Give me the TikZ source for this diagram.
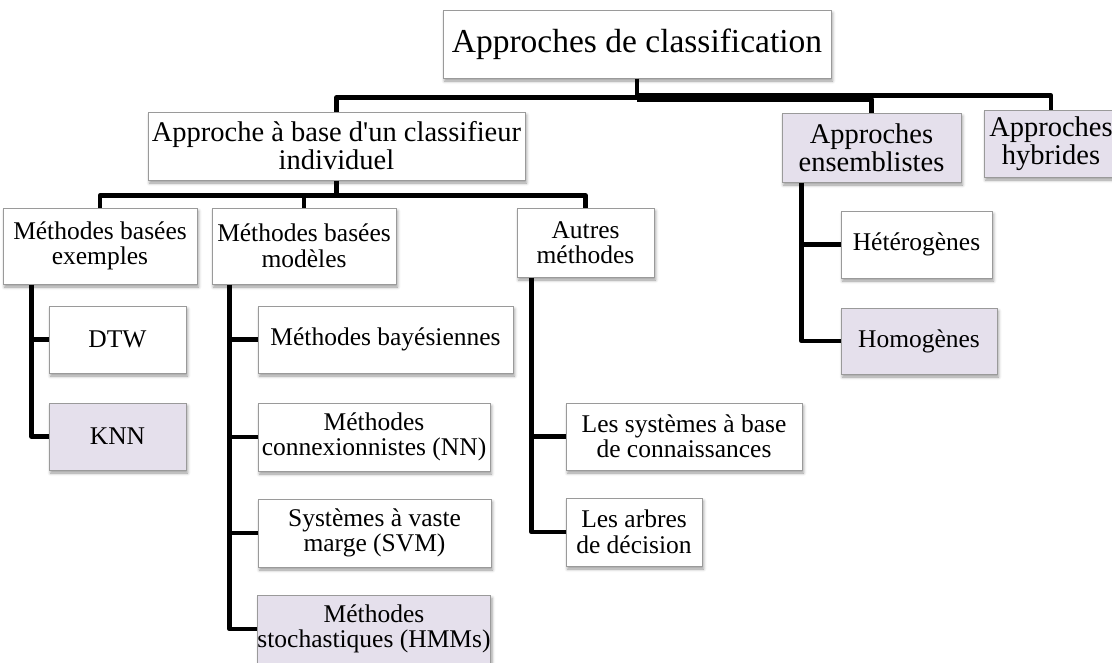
\documentclass[tikz,border=0pt]{standalone}
\usepackage{fontspec}
\setmainfont{Liberation Serif}
\usetikzlibrary{shadows.blur}
\definecolor{lav}{HTML}{E5E0EC}
\definecolor{boxline}{HTML}{9A9A9A}
\begin{document}
\begin{tikzpicture}[x=1pt,y=-1pt,
  box/.style={draw=boxline,line width=1pt,fill=white,inner sep=0pt,align=center,
    blur shadow={shadow xshift=1.5pt,shadow yshift=-3pt,shadow blur radius=3pt,shadow opacity=40}},
  hl/.style={fill=lav},
  rootfont/.style={font=\fontsize{33.5}{34}\selectfont},
  topfont/.style={font=\fontsize{28.5}{28}\selectfont},
  leaffont/.style={font=\fontsize{25.5}{25.5}\selectfont},
  link/.style={line width=4.5pt,line join=round}]
\useasboundingbox (0,0) rectangle (1112,662);

% root
\node[box,rootfont,minimum width=388pt,minimum height=68pt] (root) at (637,44) {Approches de classification};

% first level
\node[box,topfont,minimum width=377pt,minimum height=68pt] (appr) at (336.5,146) {Approche à base d\textquotesingle un classifieur\\individuel};
\node[box,hl,topfont,minimum width=179pt,minimum height=69pt] (ens) at (871.5,147.5) {Approches\\ensemblistes};
\node[box,hl,topfont,minimum width=134pt,minimum height=67pt] (hyb) at (1051,143.5) {Approches\\hybrides};

% second level
\node[box,leaffont,minimum width=194pt,minimum height=76pt] (ex) at (100,246) {Méthodes basées\\exemples};
\node[box,leaffont,minimum width=184pt,minimum height=76pt] (mod) at (304,246) {Méthodes basées\\modèles};
\node[box,leaffont,minimum width=137pt,minimum height=69pt] (aut) at (585.5,242.5) {Autres\\méthodes};

% leaves: example-based methods
\node[box,leaffont,minimum width=137pt,minimum height=67pt] (dtw) at (117.5,339.5) {DTW};
\node[box,hl,leaffont,minimum width=137pt,minimum height=67pt] (knn) at (117.5,436.5) {KNN};

% leaves: model-based methods
\node[box,leaffont,minimum width=255pt,minimum height=67pt] (bay) at (385.5,339.5) {Méthodes bayésiennes};
\node[box,leaffont,minimum width=232pt,minimum height=68pt] (nn) at (374,437) {Méthodes\\connexionnistes (NN)};
\node[box,leaffont,minimum width=233pt,minimum height=68pt] (svm) at (374.5,533) {Systèmes à vaste\\marge (SVM)};
\node[box,hl,leaffont,minimum width=232pt,minimum height=68pt] (hmm) at (374,629) {Méthodes\\stochastiques (HMMs)};

% leaves: other methods
\node[box,leaffont,minimum width=236pt,minimum height=67pt] (sbc) at (684,436.5) {Les systèmes à base\\de connaissances};
\node[box,leaffont,minimum width=136pt,minimum height=68pt] (arb) at (634,532) {Les arbres\\de décision};

% leaves: ensemble approaches
\node[box,leaffont,minimum width=151pt,minimum height=67pt] (het) at (916.5,244.5) {Hétérogènes};
\node[box,hl,leaffont,minimum width=156pt,minimum height=66pt] (hom) at (919,341) {Homogènes};

% trunks of the vertical branches
\coordinate (exTrunk) at ([xshift=29pt]ex.south west);
\coordinate (modTrunk) at ([xshift=18pt]mod.south west);
\coordinate (autTrunk) at ([xshift=15pt]aut.south west);
\coordinate (ensTrunk) at ([xshift=20pt]ens.south west);

% root connectors
\draw[link] (root.south) -- ([yshift=-19pt]root.south) -| (appr.north);
\draw[link] ([yshift=-21pt]root.south) -| (ens.north);
\draw[link] ([yshift=-17pt]root.south) -| (hyb.north);

% individual classifier connectors
\draw[link] (appr.south) -- ([yshift=-15pt]appr.south) -| (ex.north);
\draw[link] ([yshift=-15pt]appr.south) -| (mod.north);
\draw[link] ([yshift=-15pt]appr.south) -| (aut.north);

% branches to the leaves
\draw[link] (exTrunk) |- (knn.west);
\draw[link] (exTrunk |- dtw.west) -- (dtw.west);

\draw[link] (modTrunk) |- (hmm.west);
\draw[link] (modTrunk |- bay.west) -- (bay.west);
\draw[link] (modTrunk |- nn.west) -- (nn.west);
\draw[link] (modTrunk |- svm.west) -- (svm.west);

\draw[link] (autTrunk) |- (arb.west);
\draw[link] (autTrunk |- sbc.west) -- (sbc.west);

\draw[link] (ensTrunk) |- (hom.west);
\draw[link] (ensTrunk |- het.west) -- (het.west);
\end{tikzpicture}
\end{document}
